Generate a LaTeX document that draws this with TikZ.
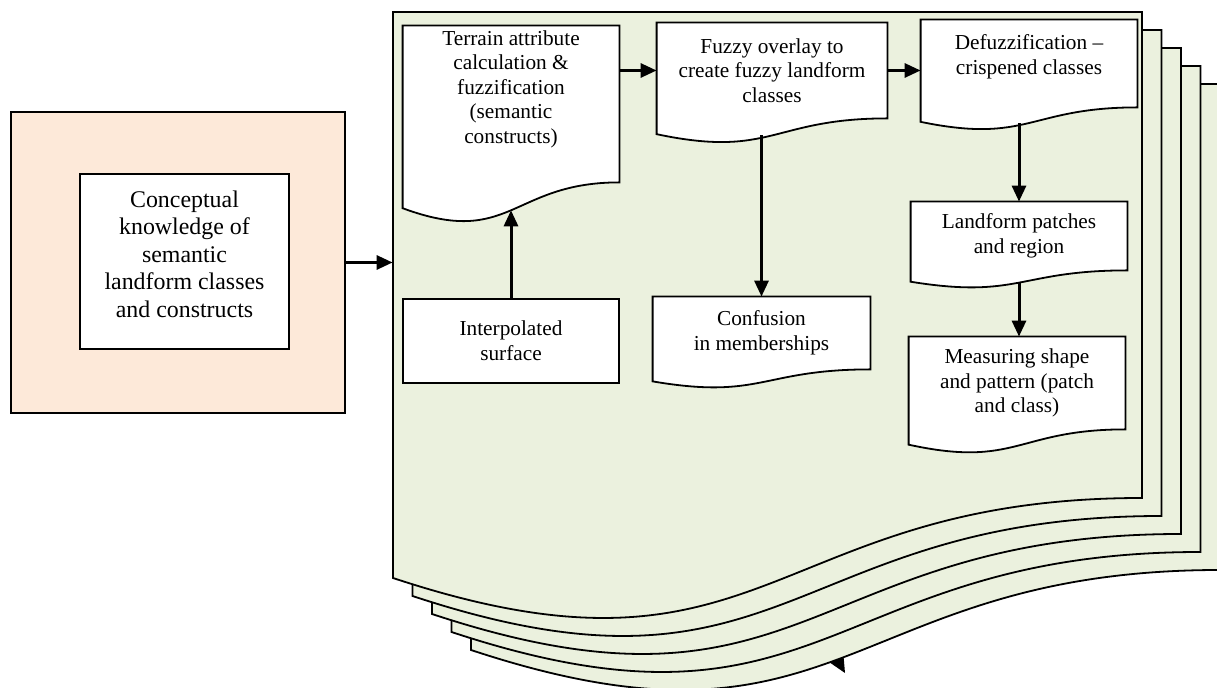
\documentclass[tikz,border=0pt]{standalone}
\usepackage{fontspec}
\setmainfont{Liberation Serif}
\usetikzlibrary{calc,positioning,arrows.meta}

\definecolor{sheetgreen}{RGB}{235,241,222}
\definecolor{knowpink}{RGB}{253,233,217}

\pgfdeclarelayer{sheets}
\pgfdeclarelayer{boxes}
\pgfsetlayers{sheets,boxes,main}

\tikzset{
  boxline/.style={line width=0.9pt},
  docbox/.style={align=center, inner sep=1pt, font=\fontsize{10.65}{12.3}\selectfont},
  plainbox/.style={docbox, draw, boxline, fill=white},
  flow/.style={line width=1.5pt, -{Triangle[length=8pt,width=7pt]}},
}

% document outline (wavy bottom) under a named node
\newcommand{\docpath}[1]{%
  \begin{pgfonlayer}{boxes}
    \draw[boxline, fill=white] (#1.north west) -- (#1.north east) -- (#1.south east)
      .. controls (#1.south) and ($(#1.north)!1.42!(#1.south)$)
      .. ($(#1.north west)!1.1646!(#1.south west)$) -- cycle;
  \end{pgfonlayer}
  \coordinate (#1 wave) at ($(#1.north)!1.178!(#1.south)$);
}

\begin{document}
\begin{tikzpicture}[x=0.5pt,y=-0.5pt]
    \useasboundingbox (0,0) rectangle (1217,688);

    % stack of sheets
    \begin{pgfonlayer}{sheets}
      \fill (829,662) -- (845,673) -- (843,650) -- cycle;
      \foreach \k in {4,3,2,1,0}
      \draw[boxline, fill=sheetgreen, shift={(19.5*\k,18*\k)}]
        (393,12) -- (1142,12) -- (1142,498)
        .. controls (767.5,498) and (767.5,702) .. (393,578) -- cycle;
    \end{pgfonlayer}
    \node[minimum width=374.5pt, minimum height=243pt] (sheet) at (767.5,255) {};

    % knowledge box
    \node[draw, boxline, fill=knowpink, minimum width=167pt, minimum height=150.5pt]
      (knowbox) at (178,262.5) {};
    \node[plainbox, minimum width=104.5pt, minimum height=87.5pt, text depth=7.5pt,
      font=\fontsize{11.95}{13.75}\selectfont] (concept) at (184.5,261.5)
      {Conceptual\\knowledge of\\semantic\\landform classes\\and constructs};

    % process boxes
    \node[docbox, minimum width=108pt, minimum height=78pt, text depth=17pt]
      (terrain) at (511,104)
      {Terrain attribute\\calculation \&\\fuzzification\\(semantic\\constructs)};
    \docpath{terrain}
    \node[docbox, minimum width=115pt, minimum height=47.5pt]
      (fuzzy) at (772,70.5) {Fuzzy overlay to\\create fuzzy landform\\classes};
    \docpath{fuzzy}
    \node[docbox, minimum width=108pt, minimum height=43.5pt, text depth=9pt]
      (defuzz) at (1029,63.5) {Defuzzification --\\crispened classes};
    \docpath{defuzz}
    \node[docbox, minimum width=108pt, minimum height=34pt]
      (patches) at (1019,236) {Landform patches\\and region};
    \docpath{patches}
    \node[docbox, minimum width=108pt, minimum height=46pt]
      (measure) at (1017,383) {Measuring shape\\and pattern (patch\\and class)};
    \docpath{measure}
    \node[docbox, minimum width=108.5pt, minimum height=36pt]
      (confusion) at (761.5,333) {Confusion\\in memberships};
    \docpath{confusion}
    \node[plainbox, minimum width=108pt, minimum height=42pt]
      (interp) at (511,341) {Interpolated\\surface};

    % connectors
    \draw[flow] (knowbox.east) -- (knowbox.east -| sheet.west);
    \draw[flow] (interp.north) -- (terrain wave);
    \draw[flow] (terrain.east |- fuzzy.west) -- (fuzzy.west);
    \draw[flow] (fuzzy.east) -- (fuzzy.east -| defuzz.west);
    \draw[flow] (confusion.north |- fuzzy wave) -- (confusion.north);
    \draw[flow] (patches.north |- defuzz wave) -- (patches.north);
    \draw[flow] (patches wave) -- (patches wave |- measure.north);

  \end{tikzpicture}
\end{document}
